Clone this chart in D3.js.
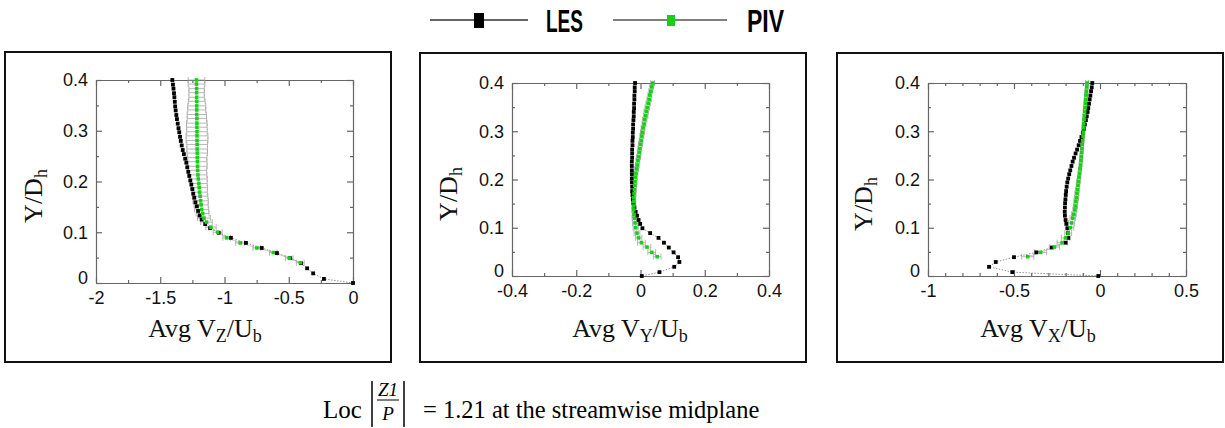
<!DOCTYPE html>
<html>
<head>
<meta charset="utf-8">
<script src="https://cdn.jsdelivr.net/npm/d3@7"></script>
<style>
  body { margin: 0; background: #fff; }
  svg { display: block; }
</style>
</head>
<body>
<svg id="chart" width="1225" height="428"></svg>
<script>
// ---- DATA ----
// LES sample heights Y/Dh (shared by the three profiles)
var yLES = [0.4, 0.391, 0.383, 0.374, 0.366, 0.357, 0.348, 0.34, 0.331, 0.323,
            0.314, 0.305, 0.297, 0.288, 0.28, 0.271, 0.262, 0.254, 0.245, 0.237,
            0.228, 0.219, 0.211, 0.202, 0.194, 0.185, 0.176, 0.168, 0.159, 0.151,
            0.142, 0.133, 0.125, 0.116, 0.108, 0.099, 0.089, 0.079, 0.069, 0.059,
            0.049, 0.039, 0.029, 0.019, 0.008, 0];
var lesVz = [-1.406, -1.401, -1.397, -1.393, -1.390, -1.387, -1.384, -1.380, -1.375, -1.370,
             -1.364, -1.358, -1.352, -1.346, -1.340, -1.333, -1.325, -1.316, -1.306, -1.297,
             -1.290, -1.282, -1.274, -1.266, -1.258, -1.250, -1.243, -1.235, -1.226, -1.215,
             -1.205, -1.193, -1.178, -1.150, -1.112, -1.045, -0.950, -0.833, -0.710, -0.592,
             -0.490, -0.405, -0.357, -0.310, -0.226, 0];
var lesVy = [-0.017, -0.018, -0.018, -0.019, -0.019, -0.020, -0.020, -0.021, -0.021, -0.022,
             -0.023, -0.023, -0.024, -0.024, -0.025, -0.025, -0.026, -0.026, -0.026, -0.027,
             -0.027, -0.027, -0.027, -0.027, -0.027, -0.026, -0.026, -0.025, -0.024, -0.022,
             -0.019, -0.015, -0.011, -0.006, -0.001, 0.006, 0.030, 0.056, 0.073, 0.088,
             0.103, 0.117, 0.121, 0.105, 0.059, 0.004];
var lesVx = [-0.045, -0.048, -0.052, -0.056, -0.060, -0.064, -0.068, -0.072, -0.077, -0.082,
             -0.088, -0.094, -0.100, -0.108, -0.116, -0.124, -0.133, -0.142, -0.151, -0.159,
             -0.166, -0.173, -0.179, -0.185, -0.190, -0.194, -0.197, -0.199, -0.201, -0.203,
             -0.204, -0.205, -0.204, -0.200, -0.196, -0.190, -0.186, -0.184, -0.200, -0.280,
             -0.370, -0.500, -0.606, -0.645, -0.510, -0.010];

// PIV sample heights Y/Dh
var yPIV = [0.4, 0.392, 0.383, 0.375, 0.366, 0.358, 0.349, 0.341, 0.332, 0.324,
            0.315, 0.307, 0.298, 0.29, 0.281, 0.273, 0.264, 0.256, 0.247, 0.239,
            0.23, 0.222, 0.213, 0.205, 0.196, 0.188, 0.179, 0.171, 0.162, 0.154,
            0.145, 0.137, 0.128, 0.12, 0.11, 0.1, 0.089, 0.079, 0.069, 0.06,
            0.049, 0.04];
var pivVz = [-1.218, -1.218, -1.217, -1.217, -1.217, -1.216, -1.216, -1.216, -1.216, -1.215,
             -1.215, -1.215, -1.214, -1.214, -1.214, -1.213, -1.213, -1.212, -1.212, -1.211,
             -1.210, -1.209, -1.207, -1.204, -1.200, -1.197, -1.194, -1.190, -1.186, -1.182,
             -1.178, -1.170, -1.160, -1.140, -1.105, -1.053, -0.983, -0.878, -0.748, -0.620,
             -0.496, -0.410];
var pivVy = [0.038, 0.035, 0.032, 0.029, 0.027, 0.024, 0.021, 0.018, 0.016, 0.013,
             0.011, 0.008, 0.006, 0.004, 0.002, 0.000, -0.002, -0.004, -0.006, -0.008,
             -0.010, -0.012, -0.014, -0.016, -0.017, -0.018, -0.019, -0.020, -0.021, -0.021,
             -0.021, -0.021, -0.020, -0.019, -0.017, -0.015, -0.011, -0.006, 0.003, 0.020,
             0.035, 0.052];
var pivVx = [-0.075, -0.077, -0.079, -0.081, -0.083, -0.085, -0.087, -0.089, -0.091, -0.093,
             -0.095, -0.096, -0.097, -0.099, -0.101, -0.103, -0.105, -0.107, -0.109, -0.111,
             -0.113, -0.116, -0.119, -0.122, -0.125, -0.128, -0.131, -0.134, -0.137, -0.140,
             -0.143, -0.146, -0.152, -0.158, -0.165, -0.172, -0.185, -0.200, -0.220, -0.265,
             -0.345, -0.420];

// PIV uncertainty (half width of the horizontal error bars)
var errVz = [0.065, 0.065, 0.06, 0.06, 0.06, 0.065, 0.07, 0.07, 0.075, 0.075,
             0.08, 0.08, 0.08, 0.085, 0.085, 0.08, 0.08, 0.08, 0.075, 0.075,
             0.075, 0.07, 0.07, 0.07, 0.065, 0.065, 0.06, 0.06, 0.06, 0.055,
             0.055, 0.05, 0.05, 0.045, 0.04, 0.035, 0.03, 0.035, 0.03, 0.03,
             0.03, 0.03];
var errVy = [0.006, 0.006, 0.006, 0.006, 0.007, 0.007, 0.007, 0.007, 0.007, 0.007,
             0.006, 0.006, 0.006, 0.006, 0.006, 0.006, 0.006, 0.006, 0.006, 0.006,
             0.006, 0.006, 0.006, 0.006, 0.006, 0.006, 0.006, 0.006, 0.006, 0.006,
             0.006, 0.006, 0.006, 0.007, 0.008, 0.008, 0.009, 0.010, 0.012, 0.012,
             0.012, 0.012];
var errVx = [0.008, 0.008, 0.008, 0.008, 0.008, 0.008, 0.008, 0.008, 0.008, 0.008,
             0.008, 0.008, 0.008, 0.008, 0.008, 0.008, 0.008, 0.008, 0.008, 0.008,
             0.008, 0.008, 0.008, 0.008, 0.010, 0.010, 0.010, 0.012, 0.012, 0.012,
             0.012, 0.012, 0.014, 0.016, 0.018, 0.020, 0.020, 0.025, 0.030, 0.030,
             0.035, 0.035];

// Ticks
var yTicks = [0, 0.1, 0.2, 0.3, 0.4];
var yMinor = [0.05, 0.15, 0.25, 0.35];
var xTicksVz = [-2, -1.5, -1, -0.5, 0];
var xMinorVz = [-1.75, -1.25, -0.75, -0.25];
var xTicksVy = [-0.4, -0.2, 0, 0.2, 0.4];
var xMinorVy = [-0.3, -0.1, 0.1, 0.3];
var xTicksVx = [-1, -0.5, 0, 0.5];
var xMinorVx = [-0.9, -0.8, -0.7, -0.6, -0.4, -0.3, -0.2, -0.1, 0.1, 0.2, 0.3, 0.4];

var labels = ['LES', 'PIV'];

// ---- LAYOUT ----
var svg = d3.select('#chart');
var SANS = "'Liberation Sans', Arial, sans-serif";
var SERIF = "'Liberation Serif', 'Times New Roman', serif";
var GREEN = '#16d016';

var panels = [
  { box: [5, 52, 386, 310], area: [96, 80, 353, 283], xDom: [-2, 0],
    xTicks: xTicksVz, xMinor: xMinorVz, les: lesVz, piv: pivVz, err: errVz,
    sub: 'Z', titleX: 205, yTitleX: 33, yTitleY: 196 },
  { box: [420, 53, 386, 309], area: [512, 83, 769, 276], xDom: [-0.4, 0.4],
    xTicks: xTicksVy, xMinor: xMinorVy, les: lesVy, piv: pivVy, err: errVy,
    sub: 'Y', titleX: 630, yTitleX: 448, yTitleY: 194 },
  { box: [837, 53, 386, 309], area: [928, 83, 1186, 276], xDom: [-1, 0.5],
    xTicks: xTicksVx, xMinor: xMinorVx, les: lesVx, piv: pivVx, err: errVx,
    sub: 'X', titleX: 1038, yTitleX: 863, yTitleY: 204 }
];

function fmt(d) { return String(d); }

function styleAxis(g) {
  g.selectAll('path, line').attr('stroke', '#666').attr('stroke-width', 1.2);
  g.selectAll('text').attr('fill', '#111')
    .attr('font-family', SANS).attr('font-size', 18);
}

panels.forEach(function(p) {
  // outer frame
  svg.append('rect')
    .attr('x', p.box[0]).attr('y', p.box[1])
    .attr('width', p.box[2]).attr('height', p.box[3])
    .style('fill', 'none').style('stroke', '#111').style('stroke-width', 2);

  var x = d3.scaleLinear().domain(p.xDom).range([p.area[0], p.area[2]]);
  var y = d3.scaleLinear().domain([0, 0.4]).range([p.area[3], p.area[1]]);

  // Axes: labelled bottom / left, plain top / right, ticks pointing in
  svg.append('g').attr('transform', 'translate(0,' + p.area[3] + ')')
    .call(d3.axisBottom(x).tickValues(p.xTicks).tickSizeInner(-6).tickSizeOuter(0)
      .tickPadding(8).tickFormat(fmt))
    .call(styleAxis);
  var left = svg.append('g').attr('transform', 'translate(' + p.area[0] + ',0)')
    .call(d3.axisLeft(y).tickValues(yTicks).tickSizeInner(-6).tickSizeOuter(0)
      .tickPadding(8).tickFormat(fmt))
    .call(styleAxis);
  // lift the "0" a little so it sits just above the first x label
  left.selectAll('.tick text').filter(function(d) { return d === 0; }).attr('dy', '0.02em');
  svg.append('g').attr('transform', 'translate(0,' + p.area[1] + ')')
    .call(d3.axisTop(x).tickValues(p.xTicks).tickSizeInner(-6).tickSizeOuter(0).tickFormat(''))
    .call(styleAxis);
  svg.append('g').attr('transform', 'translate(' + p.area[2] + ',0)')
    .call(d3.axisRight(y).tickValues(yTicks).tickSizeInner(-6).tickSizeOuter(0).tickFormat(''))
    .call(styleAxis);

  // minor ticks
  [[d3.axisBottom(x).tickValues(p.xMinor), 'translate(0,' + p.area[3] + ')'],
   [d3.axisTop(x).tickValues(p.xMinor), 'translate(0,' + p.area[1] + ')'],
   [d3.axisLeft(y).tickValues(yMinor), 'translate(' + p.area[0] + ',0)'],
   [d3.axisRight(y).tickValues(yMinor), 'translate(' + p.area[2] + ',0)']
  ].forEach(function(a) {
    var g = svg.append('g').attr('transform', a[1])
      .call(a[0].tickSize(-3).tickFormat(''));
    g.select('.domain').remove();
    g.call(styleAxis);
  });

  var plot = svg.append('g');

  // PIV error bars
  var bars = plot.append('g').style('stroke', '#999').style('stroke-width', 0.7);
  p.piv.forEach(function(v, i) {
    var yy = y(yPIV[i]), x0 = x(v - p.err[i]), x1 = x(v + p.err[i]);
    bars.append('line').attr('x1', x0).attr('x2', x1).attr('y1', yy).attr('y2', yy);
    bars.append('line').attr('x1', x0).attr('x2', x0).attr('y1', yy - 3).attr('y2', yy + 3);
    bars.append('line').attr('x1', x1).attr('x2', x1).attr('y1', yy - 3).attr('y2', yy + 3);
  });

  // Lines
  var lesPts = p.les.map(function(v, i) { return [v, yLES[i]]; });
  var pivPts = p.piv.map(function(v, i) { return [v, yPIV[i]]; });
  var lineGen = d3.line().x(function(d) { return x(d[0]); }).y(function(d) { return y(d[1]); });

  plot.append('path').attr('d', lineGen(lesPts))
    .style('fill', 'none').style('stroke', '#777').style('stroke-width', 0.8)
    .style('stroke-dasharray', '1.5,1.5');
  plot.append('path').attr('d', lineGen(pivPts))
    .style('fill', 'none').style('stroke', '#aaa').style('stroke-width', 0.6);

  // LES markers
  plot.selectAll('rect.les').data(lesPts).enter().append('rect')
    .attr('class', 'les')
    .attr('x', function(d) { return x(d[0]) - 1.9; })
    .attr('y', function(d) { return y(d[1]) - 1.9; })
    .attr('width', 3.8).attr('height', 3.8)
    .style('fill', '#000');

  // PIV markers
  plot.selectAll('rect.piv').data(pivPts).enter().append('rect')
    .attr('class', 'piv')
    .attr('x', function(d) { return x(d[0]) - 1.8; })
    .attr('y', function(d) { return y(d[1]) - 1.8; })
    .attr('width', 3.6).attr('height', 3.6)
    .style('fill', GREEN);

  // Axis titles
  var t = svg.append('text')
    .attr('x', p.titleX).attr('y', 337)
    .attr('text-anchor', 'middle')
    .attr('font-family', SERIF).attr('font-size', 26).attr('fill', '#111');
  t.append('tspan').text('Avg V');
  t.append('tspan').attr('dy', 5).attr('font-size', 18).text(p.sub);
  t.append('tspan').attr('dy', -5).text('/U');
  t.append('tspan').attr('dy', 5).attr('font-size', 18).text('b');

  var yt = svg.append('text')
    .attr('transform', 'translate(' + p.yTitleX + ',' + p.yTitleY + ') rotate(-90)')
    .attr('text-anchor', 'middle').attr('dy', '0.35em')
    .attr('font-family', SERIF).attr('font-size', 26).attr('fill', '#111');
  yt.append('tspan').text('Y/D');
  yt.append('tspan').attr('dy', 5).attr('font-size', 18).text('h');
});

// ---- LEGEND ----
var legend = svg.append('g');
legend.append('line').attr('x1', 430).attr('x2', 528).attr('y1', 20).attr('y2', 20)
  .style('stroke', '#333').style('stroke-width', 1.5);
legend.append('rect').attr('x', 474).attr('y', 13).attr('width', 10).attr('height', 15)
  .style('fill', '#000');
legend.append('line').attr('x1', 613).attr('x2', 727).attr('y1', 20).attr('y2', 20)
  .style('stroke', '#555').style('stroke-width', 1.5);
legend.append('rect').attr('x', 667).attr('y', 15).attr('width', 8).attr('height', 11)
  .style('fill', GREEN);
legend.selectAll('text').data(labels).enter().append('text')
  .attr('x', function(d, i) { return i === 0 ? 546 : 747; })
  .attr('y', 32)
  .attr('textLength', 37).attr('lengthAdjust', 'spacingAndGlyphs')
  .attr('font-family', "'Liberation Sans Narrow', 'Arial Narrow', " + SANS)
  .attr('font-weight', 'bold').attr('font-size', 32).attr('fill', '#000')
  .text(function(d) { return d; });

// ---- CAPTION ----
var cap = svg.append('g').attr('font-family', SERIF).attr('fill', '#000');
cap.append('text').attr('x', 323).attr('y', 418).attr('font-size', 25).text('Loc');
cap.append('line').attr('x1', 372).attr('x2', 372).attr('y1', 381).attr('y2', 427)
  .style('stroke', '#000').style('stroke-width', 1.5);
cap.append('line').attr('x1', 404).attr('x2', 404).attr('y1', 381).attr('y2', 427)
  .style('stroke', '#000').style('stroke-width', 1.5);
cap.append('line').attr('x1', 377).attr('x2', 399).attr('y1', 400).attr('y2', 400)
  .style('stroke', '#000').style('stroke-width', 1);
cap.append('text').attr('x', 388).attr('y', 396).attr('text-anchor', 'middle')
  .attr('font-size', 19).attr('font-style', 'italic').text('Z1');
cap.append('text').attr('x', 388).attr('y', 420).attr('text-anchor', 'middle')
  .attr('font-size', 19).attr('font-style', 'italic').text('P');
cap.append('text').attr('x', 423).attr('y', 418).attr('font-size', 24.5)
  .text('= 1.21 at the streamwise midplane');
</script>
</body>
</html>
